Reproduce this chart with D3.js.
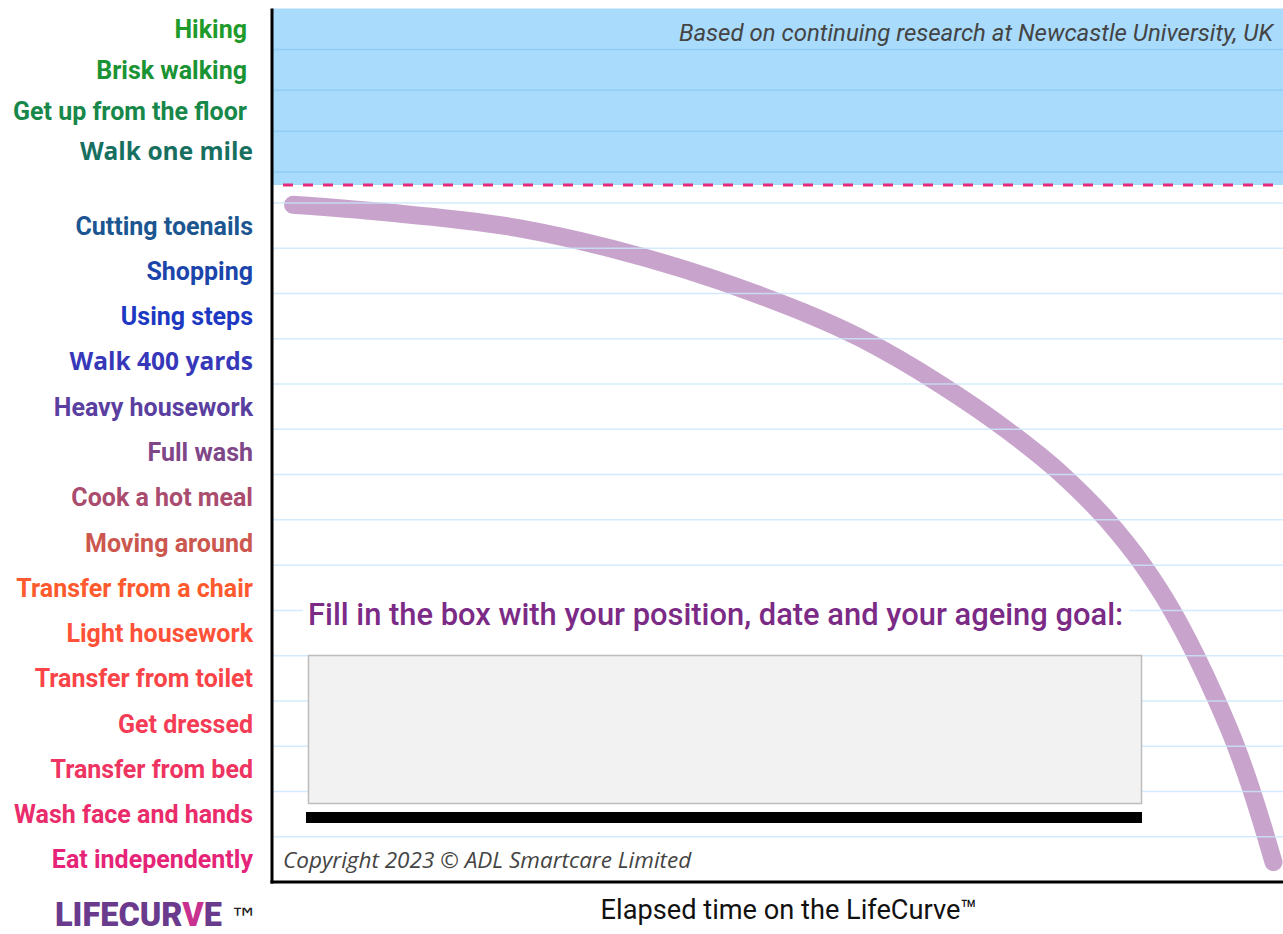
<!DOCTYPE html>
<html>
<head>
<meta charset="utf-8">
<script src="https://cdn.jsdelivr.net/npm/d3@7"></script>
<style>
  body { margin: 0; background: #fff; }
  svg { display: block; }
</style>
</head>
<body>
<div id="lifecurve-chart"></div>
<script>
// ability levels, top to bottom
var upperLevels = ["Hiking", "Brisk walking", "Get up from the floor", "Walk one mile"];
var lowerLevels = ["Cutting toenails", "Shopping", "Using steps", "Walk 400 yards",
  "Heavy housework", "Full wash", "Cook a hot meal", "Moving around",
  "Transfer from a chair", "Light housework", "Transfer from toilet", "Get dressed",
  "Transfer from bed", "Wash face and hands", "Eat independently"];

// label colours, same order as the levels
var upperColors = ["#1f9b2c", "#1a9334", "#17884a", "#17705f"];
var lowerColors = ["#1c5691", "#1b45ab", "#1d38c2", "#3638b9", "#5b3fa0", "#7f4688",
  "#aa4c6e", "#cb574f", "#ff5a2e", "#ff5138", "#fa4447", "#f53c56", "#ee3461",
  "#ea2c6b", "#e52478"];
var openSansLabels = ["Walk one mile", "Walk 400 yards"];

// the LifeCurve: elapsed time (0-100) vs level (0 = Eat independently ... 14 = Cutting toenails)
var curveTime  = [2.08, 10.98, 24.23, 33.43, 47.77, 58.36, 66.07, 72.6, 78.14, 82.59, 86.15, 89.02, 91.39, 93.47, 95.35, 96.93, 98.32, 99.06];
var curveLevel = [14.46, 14.30, 13.95, 13.5, 12.5, 11.5, 10.5, 9.5, 8.5, 7.5, 6.5, 5.5, 4.5, 3.5, 2.5, 1.5, 0.5, -0.06];

var W = 1283, H = 934;
var plotLeft = 272, plotRight = 1283, plotTop = 8.5, plotBottom = 882;

var svg = d3.select("#lifecurve-chart").append("svg")
    .attr("width", W)
    .attr("height", H);

// scales
var x = d3.scaleLinear().domain([0, 100]).range([plotLeft, plotRight]);
var yUpper = d3.scaleBand().domain(upperLevels).range([plotTop, 172]);
var yLower = d3.scaleBand().domain(lowerLevels).range([203, plotBottom]);
var yLevel = d3.scaleLinear().domain([-0.5, lowerLevels.length - 0.5]).range([plotBottom, 203]);

// blue "healthy" zone
svg.append("rect")
    .attr("x", plotLeft).attr("y", plotTop)
    .attr("width", plotRight - plotLeft).attr("height", 185 - plotTop)
    .attr("fill", "#a8dbfc");

svg.append("g").selectAll("line")
  .data(upperLevels)
  .join("line")
    .attr("x1", plotLeft).attr("x2", plotRight)
    .attr("y1", d => yUpper(d) + yUpper.bandwidth())
    .attr("y2", d => yUpper(d) + yUpper.bandwidth())
    .attr("stroke", "#90cdf8").attr("stroke-width", 1.5);

// dashed boundary
svg.append("line")
    .attr("x1", plotLeft + 11).attr("x2", plotRight)
    .attr("y1", 185).attr("y2", 185)
    .attr("stroke", "#e62c7c").attr("stroke-width", 3)
    .attr("stroke-dasharray", "10,10");

// the curve
var line = d3.line()
    .x((d, i) => x(curveTime[i]))
    .y(d => yLevel(d))
    .curve(d3.curveMonotoneX);

svg.append("path")
    .datum(curveLevel)
    .attr("d", line)
    .attr("fill", "none")
    .attr("stroke", "#9b59a3")
    .attr("stroke-opacity", 0.55)
    .attr("stroke-width", 18)
    .attr("stroke-linecap", "round");

// lower grid lines at band tops
svg.append("g").selectAll("line")
  .data(lowerLevels)
  .join("line")
    .attr("x1", plotLeft + 1).attr("x2", plotRight)
    .attr("y1", d => yLower(d))
    .attr("y2", d => yLower(d))
    .attr("stroke", "#c8e6fb").attr("stroke-width", 1.5)
    .attr("stroke-opacity", 0.8);

// fill in box
svg.append("rect")
    .attr("x", 303).attr("y", 598)
    .attr("width", 826).attr("height", 36)
    .attr("fill", "#fff");

svg.append("text")
    .attr("x", 308).attr("y", 625)
    .attr("font-family", "Roboto").attr("font-weight", 500)
    .attr("font-size", 30.9).attr("fill", "#7b2a86")
    .text("Fill in the box with your position, date and your ageing goal:");

svg.append("rect")
    .attr("x", 308.5).attr("y", 655.5)
    .attr("width", 833).attr("height", 148)
    .attr("fill", "#f2f2f2").attr("stroke", "#bdbdbd").attr("stroke-width", 1.5);

svg.append("rect")
    .attr("x", 306).attr("y", 812)
    .attr("width", 836).attr("height", 11)
    .attr("fill", "#000");

// notes
svg.append("text")
    .attr("x", 1273).attr("y", 41)
    .attr("text-anchor", "end")
    .attr("font-family", "Roboto").attr("font-style", "italic")
    .attr("font-size", 24).attr("fill", "#444")
    .text("Based on continuing research at Newcastle University, UK");

svg.append("text")
    .attr("x", 283).attr("y", 868)
    .attr("font-family", "Open Sans").attr("font-style", "italic")
    .attr("font-size", 22.5).attr("fill", "#444")
    .text("Copyright 2023 \u00a9 ADL Smartcare Limited");

// axes
svg.append("line")
    .attr("x1", plotLeft).attr("x2", plotLeft)
    .attr("y1", plotTop).attr("y2", plotBottom + 1.5)
    .attr("stroke", "#000").attr("stroke-width", 3);
svg.append("line")
    .attr("x1", plotLeft - 1.5).attr("x2", plotRight)
    .attr("y1", plotBottom).attr("y2", plotBottom)
    .attr("stroke", "#000").attr("stroke-width", 3);

// level labels
svg.append("g").selectAll("text")
  .data(upperLevels)
  .join("text")
    .attr("x", d => openSansLabels.includes(d) ? 253 : 247)
    .attr("y", d => yUpper(d) + yUpper.bandwidth() / 2)
    .attr("dy", "0.36em")
    .attr("text-anchor", "end")
    .attr("font-family", d => openSansLabels.includes(d) ? "Open Sans" : "Roboto")
    .attr("font-weight", 700)
    .attr("font-size", d => openSansLabels.includes(d) ? 24.5 : 25)
    .attr("fill", (d, i) => upperColors[i])
    .text(d => d);

svg.append("g").selectAll("text")
  .data(lowerLevels)
  .join("text")
    .attr("x", 253)
    .attr("y", d => yLower(d) + yLower.bandwidth() / 2)
    .attr("dy", "0.36em")
    .attr("text-anchor", "end")
    .attr("font-family", d => openSansLabels.includes(d) ? "Open Sans" : "Roboto")
    .attr("font-weight", 700)
    .attr("font-size", d => openSansLabels.includes(d) ? 24.5 : 25)
    .attr("fill", (d, i) => lowerColors[i])
    .text(d => d);

// x axis title
svg.append("text")
    .attr("x", 789).attr("y", 919)
    .attr("text-anchor", "middle")
    .attr("font-family", "Roboto").attr("font-size", 27.2)
    .attr("fill", "#111")
    .text("Elapsed time on the LifeCurve\u2122");

// logo
var logo = svg.append("text")
    .attr("x", 55).attr("y", 926)
    .attr("font-family", "Roboto").attr("font-weight", 900)
    .attr("font-size", 32.5).attr("fill", "#6a3b8c");
logo.append("tspan").text("LIFECUR");
logo.append("tspan").attr("fill", "#c8318e").text("V");
logo.append("tspan").text("E");
svg.append("text")
    .attr("x", 230).attr("y", 928)
    .attr("font-family", "DejaVu Sans")
    .attr("font-size", 28).attr("fill", "#222")
    .text("\u2122");
</script>
</body>
</html>
